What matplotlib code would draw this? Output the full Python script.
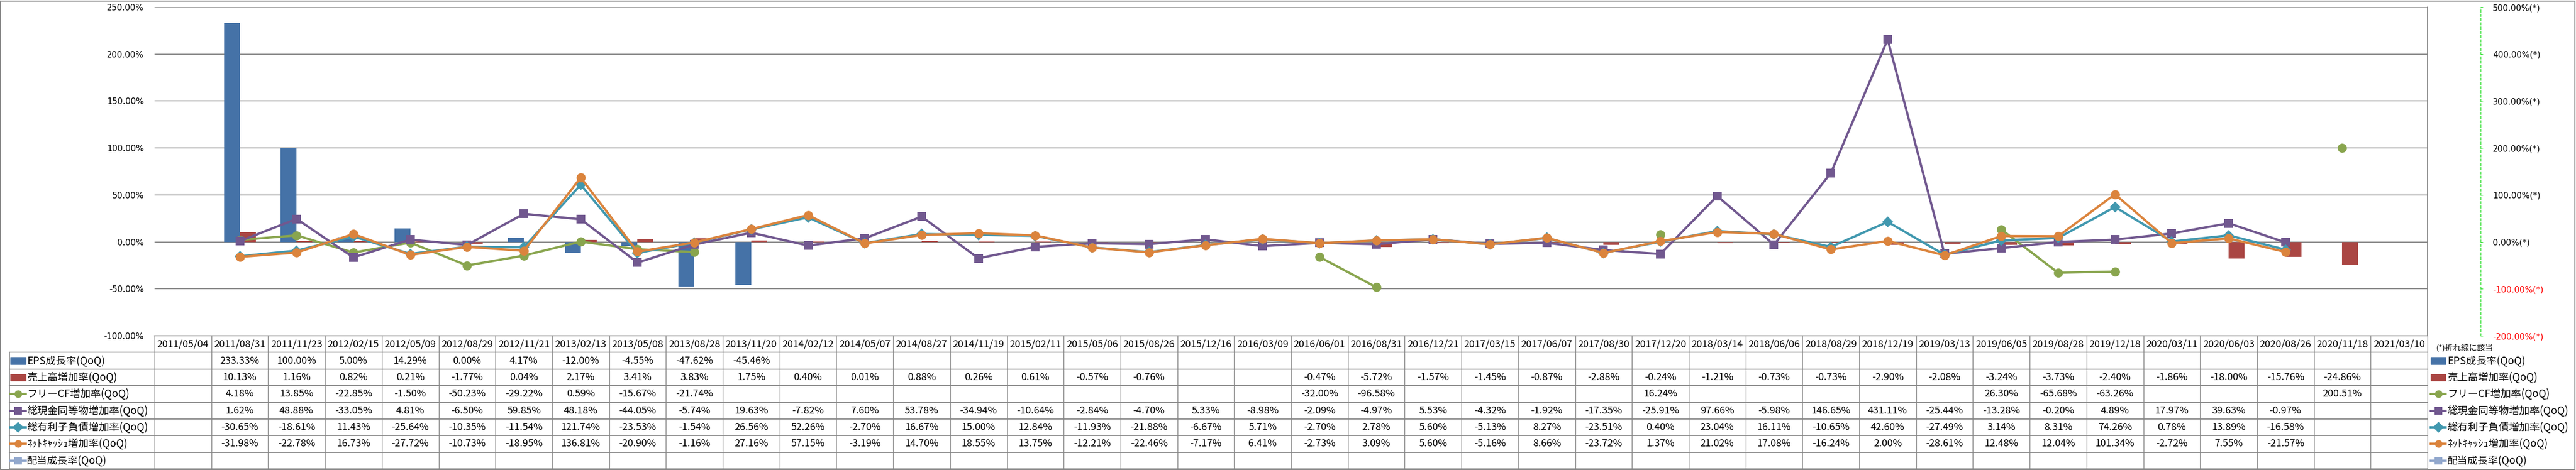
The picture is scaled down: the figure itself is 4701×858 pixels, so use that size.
import numpy as np
import matplotlib.pyplot as plt
from matplotlib.patches import Rectangle

plt.rcParams['font.family'] = ['Noto Sans CJK JP', 'DejaVu Sans']

nan = np.nan

dates = ['2011/05/04', '2011/08/31', '2011/11/23', '2012/02/15', '2012/05/09', '2012/08/29',
         '2012/11/21', '2013/02/13', '2013/05/08', '2013/08/28', '2013/11/20', '2014/02/12',
         '2014/05/07', '2014/08/27', '2014/11/19', '2015/02/11', '2015/05/06', '2015/08/26',
         '2015/12/16', '2016/03/09', '2016/06/01', '2016/08/31', '2016/12/21', '2017/03/15',
         '2017/06/07', '2017/08/30', '2017/12/20', '2018/03/14', '2018/06/06', '2018/08/29',
         '2018/12/19', '2019/03/13', '2019/06/05', '2019/08/28', '2019/12/18', '2020/03/11',
         '2020/06/03', '2020/08/26', '2020/11/18', '2021/03/10']

# bars (left scale)
eps = [nan, 233.33, 100.00, 5.00, 14.29, 0.00, 4.17, -12.00, -4.55, -47.62, -45.46] + [nan] * 29
sales = [nan, 10.13, 1.16, 0.82, 0.21, -1.77, 0.04, 2.17, 3.41, 3.83, 1.75, 0.40, 0.01, 0.88,
         0.26, 0.61, -0.57, -0.76, nan, nan, -0.47, -5.72, -1.57, -1.45, -0.87, -2.88, -0.24,
         -1.21, -0.73, -0.73, -2.90, -2.08, -3.24, -3.73, -2.40, -1.86, -18.00, -15.76, -24.86, nan]

# lines (right scale, (*))
fcf = ([nan, 4.18, 13.85, -22.85, -1.50, -50.23, -29.22, 0.59, -15.67, -21.74] + [nan] * 10
       + [-32.00, -96.58] + [nan] * 4 + [16.24] + [nan] * 5 + [26.30, -65.68, -63.26]
       + [nan] * 3 + [200.51, nan])
cash = [nan, 1.62, 48.88, -33.05, 4.81, -6.50, 59.85, 48.18, -44.05, -5.74, 19.63, -7.82, 7.60,
        53.78, -34.94, -10.64, -2.84, -4.70, 5.33, -8.98, -2.09, -4.97, 5.53, -4.32, -1.92,
        -17.35, -25.91, 97.66, -5.98, 146.65, 431.11, -25.44, -13.28, -0.20, 4.89, 17.97,
        39.63, -0.97, nan, nan]
debt = [nan, -30.65, -18.61, 11.43, -25.64, -10.35, -11.54, 121.74, -23.53, -1.54, 26.56, 52.26,
        -2.70, 16.67, 15.00, 12.84, -11.93, -21.88, -6.67, 5.71, -2.70, 2.78, 5.60, -5.13, 8.27,
        -23.51, 0.40, 23.04, 16.11, -10.65, 42.60, -27.49, 3.14, 8.31, 74.26, 0.78, 13.89,
        -16.58, nan, nan]
netcash = [nan, -31.98, -22.78, 16.73, -27.72, -10.73, -18.95, 136.81, -20.90, -1.16, 27.16,
           57.15, -3.19, 14.70, 18.55, 13.75, -12.21, -22.46, -7.17, 6.41, -2.73, 3.09, 5.60,
           -5.16, 8.66, -23.72, 1.37, 21.02, 17.08, -16.24, 2.00, -28.61, 12.48, 12.04, 101.34,
           -2.72, 7.55, -21.57, nan, nan]
dividend = [nan] * 40

names = ['EPS成長率(QoQ)', '売上高増加率(QoQ)', 'フリーCF増加率(QoQ)', '総現金同等物増加率(QoQ)',
         '総有利子負債増加率(QoQ)', 'ﾈｯﾄｷｬｯｼｭ増加率(QoQ)', '配当成長率(QoQ)']
values = [eps, sales, fcf, cash, debt, netcash, dividend]
colors = ['#4572A7', '#AA4643', '#89A54E', '#71588F', '#4198AF', '#DB843D', '#92A8CD']
kinds = ['bar', 'bar', 'o', 's', 'D', 'o', 's']

W, H = 4701, 858
L, R = 282, 4430
grey = '#868686'
fig = plt.figure(figsize=(W / 100, H / 100), dpi=100)


def box(x0, y0, x1, y1):
    return [x0 / W, 1 - y1 / H, (x1 - x0) / W, (y1 - y0) / H]


n = len(dates)
x = np.arange(n)
colw = (R - L) / n


def cx(p):
    return (p - L) / colw - 0.5


ax = fig.add_axes(box(L, 13, R, 613))
ax.bar(x - 0.14, eps, 0.28, color=colors[0], zorder=2)
ax.bar(x + 0.14, sales, 0.28, color=colors[1], zorder=2)
ax.set_xlim(-0.5, n - 0.5)
ax.set_ylim(-100, 250)
t1 = np.arange(-100, 251, 50)
ax.set_yticks(t1)
ax.set_yticklabels([f'{v:.2f}%' for v in t1])
ax.yaxis.tick_right()
ax.tick_params(axis='y', length=0, pad=14, labelsize=11, labelfontfamily='DejaVu Sans')
for tk, v in zip(ax.yaxis.get_major_ticks(), t1):
    tk.label2.set_color('red' if v < 0 else 'black')
ax.set_xticks([])
ax.grid(axis='y', color=grey, lw=1.3)
ax.set_axisbelow(True)
for s in ['left', 'top', 'bottom']:
    ax.spines[s].set_visible(False)
ax.spines['right'].set_color(grey)
ax.spines['right'].set_linewidth(1.3)

ax2 = ax.twinx()
for i in range(2, 7):
    ax2.plot(x, values[i], color=colors[i], lw=3, marker=kinds[i],
             markersize=10 if kinds[i] == 'D' else 12, markeredgewidth=0)
ax2.set_ylim(-200, 500)
t2 = np.arange(-200, 501, 100)
ax2.set_yticks(t2)
ax2.set_yticklabels([f'{v:.2f}%(*)' for v in t2])
for s in ['left', 'top', 'bottom']:
    ax2.spines[s].set_visible(False)
ax2.spines['right'].set_position(('axes', (4527 - L) / (R - L)))
ax2.spines['right'].set_color('#22DD22')
ax2.spines['right'].set_linestyle((0, (4, 3)))
ax2.tick_params(axis='y', color='#22DD22', length=3, pad=13, labelsize=11,
                labelfontfamily='DejaVu Sans')
for tk, v in zip(ax2.yaxis.get_major_ticks(), t2):
    tk.label2.set_color('red' if v < 0 else 'black')

# data table under the plot
tax = fig.add_axes(box(L, 613, R, 856))
tax.set_xlim(-0.5, n - 0.5)
tax.set_ylim(8, 0)
tax.axis('off')
left = cx(17)
tax.plot([-0.5, n - 0.5], [0, 0], color=grey, lw=1.3, clip_on=False)
for r in range(1, 9):
    tax.plot([left, n - 0.5], [r, r], color=grey, lw=1.3, clip_on=False)
for k in range(n + 1):
    tax.plot([k - 0.5, k - 0.5], [0, 8], color=grey, lw=1, clip_on=False)
tax.plot([left, left], [1, 8], color=grey, lw=1, clip_on=False)

for j, d in enumerate(dates):
    tax.text(j, 0.5, d, ha='center', va='center', fontsize=13)
for i, vals in enumerate(values):
    for j, v in enumerate(vals):
        if not np.isnan(v):
            tax.text(j, i + 1.5, f'{v:.2f}%', ha='center', va='center', fontsize=13)


def key(x0, x1, y, i):
    if kinds[i] == 'bar':
        tax.add_patch(Rectangle((x0, y - 0.2), x1 - x0, 0.4, color=colors[i], clip_on=False))
    else:
        tax.plot([x0, x1], [y, y], color=colors[i], lw=3, clip_on=False)
        tax.plot([(x0 + x1) / 2], [y], marker=kinds[i], color=colors[i], markersize=10,
                 markeredgewidth=0, clip_on=False)


for i, name in enumerate(names):
    key(cx(19), cx(47), i + 1.5, i)
    tax.text(cx(49), i + 1.5, name, ha='left', va='center', fontsize=13.5)
    key(cx(4436), cx(4463), i + 1.5, i)
    tax.text(cx(4466), i + 1.5, name, ha='left', va='center', fontsize=13.5, clip_on=False)
tax.text(cx(4446), 0.75, '(*)折れ線に該当', ha='left', va='center', fontsize=10.5)

fig.patches.append(Rectangle((0.0002, 0.001), 0.9994, 0.997, transform=fig.transFigure,
                             fill=False, ec=grey, lw=1.5))

plt.savefig('out.png', dpi=100)
